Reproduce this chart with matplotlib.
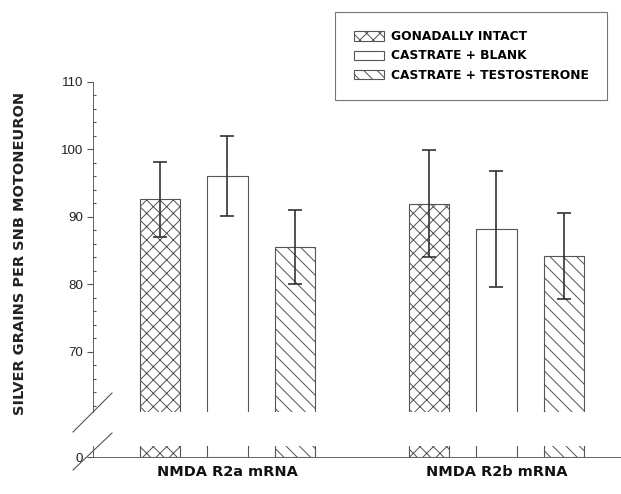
import numpy as np
import matplotlib
matplotlib.use("Agg")
import matplotlib.pyplot as plt
from matplotlib.patches import Patch
from matplotlib.lines import Line2D
from matplotlib.ticker import MultipleLocator

# data
groups = ['NMDA R2a mRNA', 'NMDA R2b mRNA']
conditions = ['GONADALLY INTACT', 'CASTRATE + BLANK', 'CASTRATE + TESTOSTERONE']
intact = [92.6, 91.95]
intact_err = [5.5, 7.95]
blank = [96.05, 88.2]
blank_err = [5.95, 8.6]
testo = [85.55, 84.2]
testo_err = [5.55, 6.4]

values = [intact, blank, testo]
errors = [intact_err, blank_err, testo_err]
hatches = ['xx', '', '\\\\']

plt.rcParams['font.family'] = ['Liberation Sans', 'DejaVu Sans']
plt.rcParams['hatch.linewidth'] = 0.9
plt.rcParams['hatch.color'] = '#555555'
BOLD = ['DejaVu Sans']

DPI = 80
W, H = 621, 494
fig = plt.figure(figsize=(W / DPI, H / DPI), dpi=DPI)

edge = '#555555'
def fx(px):
    return px / W
def fy(py):
    return 1 - py / H

ax = fig.add_axes([fx(93), fy(412), 1 - fx(93), fy(82) - fy(412)])
axb = fig.add_axes([fx(93), fy(457), 1 - fx(93), fy(446) - fy(457)])

x = np.arange(len(groups))
offsets = [-0.251, 0.0, 0.251]
width = 0.152

for a in (ax, axb):
    for vals, off, h in zip(values, offsets, hatches):
        a.bar(x + off, vals, width, color='white', edgecolor=edge,
              linewidth=1.0, hatch=h)
    a.set_xlim(-0.5, 1.463)

for vals, errs, off in zip(values, errors, offsets):
    ax.errorbar(x + off, vals, yerr=errs, fmt='none', ecolor='#333333',
                elinewidth=1.5, capsize=6.5, capthick=1.5)

# upper axis
ax.set_ylim(61.1, 110)
ax.set_yticks([70, 80, 90, 100, 110])
ax.yaxis.set_minor_locator(MultipleLocator(2))
for s in ('top', 'right', 'bottom'):
    ax.spines[s].set_visible(False)
ax.spines['left'].set_color(edge)
ax.set_xticks([])
ax.tick_params(axis='y', which='major', direction='out', length=5, width=1,
               color=edge, labelsize=12, labelcolor='#222222', pad=4)
ax.tick_params(axis='y', which='minor', direction='in', length=3, width=1,
               color=edge)

# lower axis
axb.set_ylim(0, 1.63)
axb.set_yticks([0])
for s in ('top', 'right'):
    axb.spines[s].set_visible(False)
axb.spines['left'].set_color(edge)
axb.spines['bottom'].set_color(edge)
axb.tick_params(axis='y', direction='out', length=5, width=1, color=edge,
                labelsize=12, labelcolor='#222222', pad=4)
axb.set_xticks(x)
axb.set_xticklabels(groups, fontsize=13, fontweight='bold', family=BOLD,
                    color='#111111')
axb.tick_params(axis='x', length=0, pad=7)

# axis break marks
for y0, y1 in [(432, 393), (470, 433)]:
    fig.add_artist(Line2D([fx(73), fx(112)], [fy(y0), fy(y1)],
                          color=edge, linewidth=1.0))

fig.text(fx(20), fy(253), 'SILVER GRAINS PER SNB MOTONEURON', rotation=90,
         ha='center', va='center', fontsize=13, fontweight='bold',
         family=BOLD, color='#222222')

handles = [Patch(facecolor='white', edgecolor=edge, hatch=h, linewidth=1.0)
           for h in hatches]
leg = fig.legend(handles, conditions, loc='upper right',
                 bbox_to_anchor=(fx(607), fy(12)), borderaxespad=0,
                 frameon=True, fancybox=False, edgecolor=edge, borderpad=1.5,
                 handlelength=2.5, handleheight=0.8, handletextpad=0.55,
                 labelspacing=0.5,
                 prop={'weight': 'bold', 'size': 11, 'family': BOLD})
leg.get_frame().set_linewidth(1.0)

fig.savefig('out.png', dpi=DPI)
